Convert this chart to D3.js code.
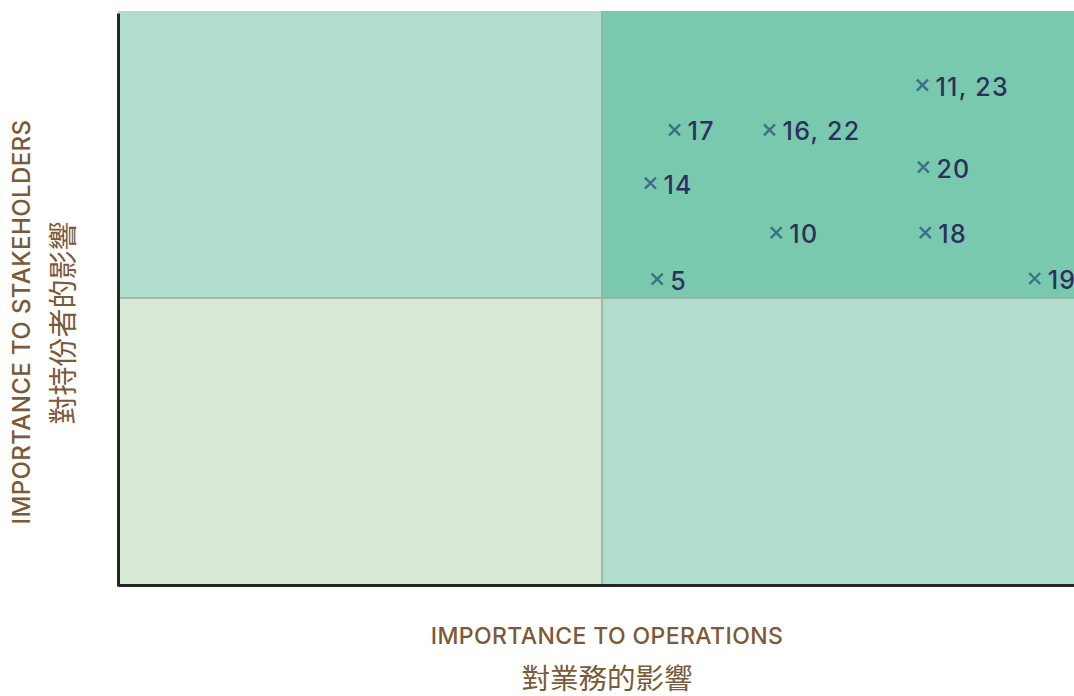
<!DOCTYPE html>
<html>
<head>
<meta charset="utf-8">
<script src="https://cdn.jsdelivr.net/npm/d3@7"></script>
<style>
  body { margin: 0; background: #fff; }
  svg { display: block; }
</style>
</head>
<body>
<div id="chart"></div>
<script>
// materiality issues: importance to operations (x) vs stakeholders (y)
var issueLabels = ["17", "16, 22", "11, 23", "14", "20", "10", "18", "5", "19"];
var opsScore    = [5.75, 6.73, 8.31, 5.50, 8.32, 6.80, 8.34, 5.57, 9.47];
var stakeScore  = [7.93, 7.93, 8.71, 7.00, 7.28, 6.14, 6.14, 5.33, 5.34];

// quadrants: [x0, x1, y0, y1, colour key]
var quadrants = [
  [0, 5, 5, 10, "mid"],
  [5, 10, 5, 10, "high"],
  [0, 5, 0, 5, "low"],
  [5, 10, 0, 5, "mid"]
];
var quadColours = {low: "#d7e8d4", mid: "#b1ddcd", high: "#79c9af"};

var xTitle = "IMPORTANCE TO OPERATIONS", xTitleZh = "對業務的影響";
var yTitle = "IMPORTANCE TO STAKEHOLDERS", yTitleZh = "對持份者的影響";

var width = 1074, height = 696;
var latin = "Inter, 'Liberation Sans', sans-serif";
var cjk = "'Noto Sans CJK TC', sans-serif";

var svg = d3.select("#chart")
  .append("svg")
  .attr("width", width)
  .attr("height", height);

var x = d3.scaleLinear().domain([0, 10]).range([118, 1086]);
var y = d3.scaleLinear().domain([0, 10]).range([585, 11]);

// quadrant backgrounds
svg.selectAll("rect.quad")
  .data(quadrants)
  .enter().append("rect")
  .attr("class", "quad")
  .attr("x", function(d) { return x(d[0]); })
  .attr("y", function(d) { return y(d[3]); })
  .attr("width", function(d) { return x(d[1]) - x(d[0]); })
  .attr("height", function(d) { return y(d[2]) - y(d[3]); })
  .attr("fill", function(d) { return quadColours[d[4]]; });

// dividers
svg.append("line")
  .attr("x1", x(5)).attr("x2", x(5))
  .attr("y1", y(10)).attr("y2", y(0))
  .attr("stroke", "#9aa9a3").attr("stroke-width", 1.5);
svg.append("line")
  .attr("x1", x(0)).attr("x2", x(10))
  .attr("y1", y(5)).attr("y2", y(5))
  .attr("stroke", "#9aa9a3").attr("stroke-width", 1.5);

// axes (no ticks)
svg.append("g")
  .attr("transform", "translate(0," + y(0) + ")")
  .call(d3.axisBottom(x).tickValues([]).tickSizeOuter(0))
  .call(function(g) { g.select(".domain").attr("stroke", "#262626").attr("stroke-width", 3); });
svg.append("g")
  .attr("transform", "translate(" + x(0) + ",0)")
  .call(d3.axisLeft(y.copy().range([586, 13])).tickValues([]).tickSizeOuter(0))
  .call(function(g) { g.select(".domain").attr("stroke", "#262626").attr("stroke-width", 3); });

// points
var pts = issueLabels.map(function(l, i) {
  return {label: l, ops: opsScore[i], stake: stakeScore[i]};
});

var s = 5.5;
var g = svg.selectAll("g.issue")
  .data(pts)
  .enter().append("g")
  .attr("class", "issue")
  .attr("transform", function(d) { return "translate(" + x(d.ops) + "," + y(d.stake) + ")"; });

g.append("path")
  .attr("d", "M" + (-s) + "," + (-s) + "L" + s + "," + s + "M" + (-s) + "," + s + "L" + s + "," + (-s))
  .attr("stroke", "#3f7088")
  .attr("stroke-width", 2.4)
  .attr("fill", "none");

g.append("text")
  .attr("x", 13)
  .attr("y", 10.5)
  .attr("font-family", latin)
  .attr("font-weight", 500)
  .attr("font-size", 25)
  .attr("letter-spacing", 1.3)
  .attr("fill", "#2e2f5c")
  .text(function(d) { return d.label; });

// axis titles
var brown = "#7b5a38";
svg.append("text")
  .attr("x", 607).attr("y", 644)
  .attr("text-anchor", "middle")
  .attr("font-family", latin)
  .attr("font-weight", 500)
  .attr("font-size", 23)
  .attr("letter-spacing", 0.4)
  .attr("fill", brown)
  .text(xTitle);
svg.append("text")
  .attr("x", 607).attr("y", 689)
  .attr("text-anchor", "middle")
  .attr("font-family", cjk)
  .attr("font-size", 28.5)
  .attr("fill", brown)
  .text(xTitleZh);

svg.append("text")
  .attr("transform", "translate(29.5,322) rotate(-90)")
  .attr("text-anchor", "middle")
  .attr("font-family", latin)
  .attr("font-weight", 500)
  .attr("font-size", 24)
  .attr("letter-spacing", 0.4)
  .attr("fill", brown)
  .text(yTitle);
svg.append("text")
  .attr("transform", "translate(74,323) rotate(-90)")
  .attr("text-anchor", "middle")
  .attr("font-family", cjk)
  .attr("font-size", 29)
  .attr("fill", brown)
  .text(yTitleZh);
</script>
</body>
</html>
